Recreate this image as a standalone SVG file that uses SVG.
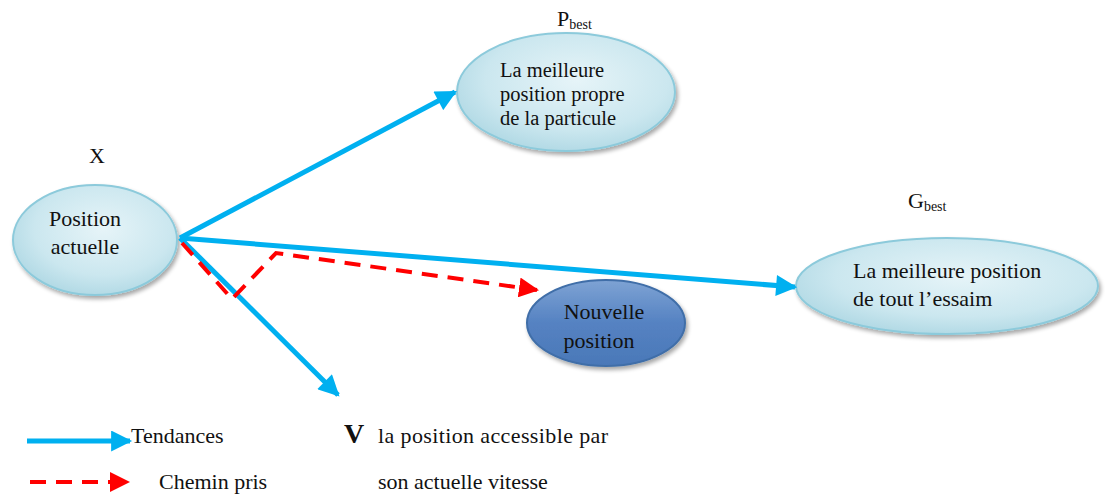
<svg xmlns="http://www.w3.org/2000/svg" width="1114" height="496" viewBox="0 0 1114 496" font-family="'Liberation Serif', 'Times New Roman', 'DejaVu Serif', serif">
  <style>
    text { font-family: 'Liberation Serif', 'Times New Roman', 'DejaVu Serif', serif; fill: #111; }
    .lbl { font-size: 22px; }
    .md { font-size: 20.5px; }
    .sub { font-size: 14px; }
    .node-light { fill: url(#gLight); stroke: #8ccadb; stroke-width: 2; filter: url(#shadow); }
    .node-dark { fill: url(#gDark); stroke: #3f6ea8; stroke-width: 2; filter: url(#shadow); }
    .trend { stroke: #00b0f0; stroke-width: 5; fill: none; }
    .path { stroke: #ff0000; stroke-width: 4; fill: none; stroke-dasharray: 16 10; }
  </style>
  <defs>
    <radialGradient id="gLight" cx="0.55" cy="0.4" r="0.7">
      <stop offset="0" stop-color="#e6f4f8"/>
      <stop offset="0.6" stop-color="#cbe7ef"/>
      <stop offset="1" stop-color="#a6d3e0"/>
    </radialGradient>
    <linearGradient id="gDark" x1="0" y1="0" x2="0" y2="1">
      <stop offset="0" stop-color="#7ea3d4"/>
      <stop offset="0.5" stop-color="#5582c2"/>
      <stop offset="1" stop-color="#4a78b8"/>
    </linearGradient>
    <filter id="shadow" x="-10%" y="-10%" width="125%" height="130%">
      <feGaussianBlur in="SourceAlpha" stdDeviation="2"/>
      <feOffset dx="2" dy="3"/>
      <feComponentTransfer><feFuncA type="linear" slope="0.35"/></feComponentTransfer>
      <feMerge><feMergeNode/><feMergeNode in="SourceGraphic"/></feMerge>
    </filter>
    <marker id="arrBlue" viewBox="0 0 10 10" refX="9" refY="5" markerWidth="4.4" markerHeight="4.2" orient="auto" markerUnits="strokeWidth">
      <path d="M0,0 L10,5 L0,10 Z" fill="#00b0f0"/>
    </marker>
    <marker id="arrRed" viewBox="0 0 10 10" refX="9" refY="5" markerWidth="5" markerHeight="5" orient="auto" markerUnits="strokeWidth">
      <path d="M0,0 L10,5 L0,10 Z" fill="#ff0000"/>
    </marker>
  </defs>

  <!-- nodes -->
  <g id="node-x">
    <ellipse class="node-light" cx="95" cy="240" rx="82" ry="55"/>
    <text class="lbl" x="97" y="163" text-anchor="middle">X</text>
    <text class="lbl" x="85" y="226" text-anchor="middle">Position</text>
    <text class="lbl" x="85" y="254" text-anchor="middle">actuelle</text>
  </g>

  <g id="node-pbest">
    <ellipse class="node-light" cx="566" cy="92" rx="109" ry="59"/>
    <text class="lbl" x="557" y="26">P<tspan class="sub" dy="3">best</tspan></text>
    <text class="md" x="500" y="77">La meilleure</text>
    <text class="md" x="500" y="101">position propre</text>
    <text class="md" x="500" y="125">de la particule</text>
  </g>

  <g id="node-gbest">
    <ellipse class="node-light" cx="947" cy="286" rx="151" ry="48"/>
    <text class="lbl" x="908" y="208">G<tspan class="sub" dy="3">best</tspan></text>
    <text class="lbl" x="853" y="278">La meilleure position</text>
    <text class="lbl" x="853" y="306">de tout l’essaim</text>
  </g>

  <g id="node-nouvelle">
    <ellipse class="node-dark" cx="606" cy="323" rx="79" ry="43"/>
    <text class="lbl" x="604" y="319" text-anchor="middle">Nouvelle</text>
    <text class="lbl" x="599" y="348" text-anchor="middle">position</text>
  </g>

  <!-- connectors -->
  <g id="connectors">
    <line class="trend" x1="180" y1="238" x2="455" y2="92" marker-end="url(#arrBlue)"/>
    <line class="trend" x1="180" y1="238" x2="795" y2="287" marker-end="url(#arrBlue)"/>
    <line class="trend" x1="180" y1="238" x2="338" y2="395" marker-end="url(#arrBlue)"/>
    <polyline class="path" points="182,243 232,299 276,253 537,290" marker-end="url(#arrRed)"/>
  </g>

  <!-- legend -->
  <g id="legend">
    <line class="trend" x1="27" y1="441" x2="130" y2="441" marker-end="url(#arrBlue)"/>
    <text class="lbl" x="131" y="443">Tendances</text>
    <line class="path" x1="30" y1="482" x2="128" y2="482" stroke-dasharray="18 9" marker-end="url(#arrRed)"/>
    <text class="lbl" x="159" y="489">Chemin pris</text>
    <text x="344" y="443" font-size="28" font-weight="bold">V</text>
    <text class="lbl" x="378" y="443" textLength="230">la position accessible par</text>
    <text class="lbl" x="378" y="489">son actuelle vitesse</text>
  </g>
</svg>
